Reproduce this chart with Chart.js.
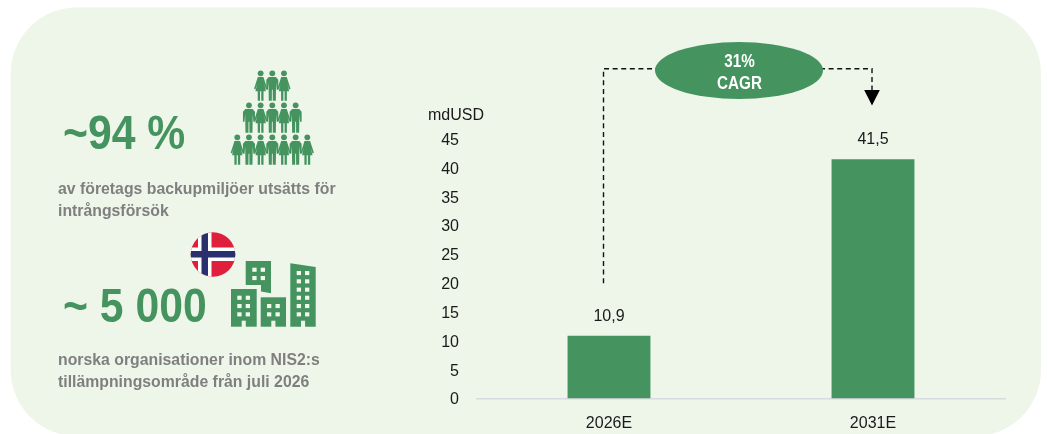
<!DOCTYPE html>
<html><head><meta charset="utf-8">
<style>html,body{margin:0;padding:0;background:#fff}#w{width:1048px;height:434px}</style>
<script src="https://cdn.jsdelivr.net/npm/chart.js@4/dist/chart.umd.min.js"></script>
</head><body><div id="w"><canvas id="c" width="1048" height="434"></canvas></div>
<script>
const categories = ["2026E", "2031E"];
const values = [10.9, 41.5];
const yTicks = [0, 5, 10, 15, 20, 25, 30, 35, 40, 45];
const unitLabel = "mdUSD";
const cagrLines = ["31%", "CAGR"];
const stat1 = "~94 %";
const stat1Text = ["av företags backupmiljöer utsätts för", "intrångsförsök"];
const stat2 = "~ 5 000";
const stat2Text = ["norska organisationer inom NIS2:s", "tillämpningsområde från juli 2026"];

const GREEN = "#45945F", PANEL = "#EEF6EA", GREY = "#7F7F7F", INK = "#1a1a1a";
const FONT = '"Liberation Sans", Arial, sans-serif';

function stext(ctx, s, x, y, font, color, sx, align) {
  ctx.save(); ctx.font = font; ctx.fillStyle = color;
  ctx.textBaseline = "alphabetic"; ctx.textAlign = align || "left";
  ctx.translate(x, y); ctx.scale(sx, 1); ctx.fillText(s, 0, 0); ctx.restore();
}
function person(ctx, x, y, woman) {
  ctx.beginPath(); ctx.arc(x, y, 2.9, 0, 7); ctx.fill();
  ctx.beginPath();
  if (woman) {
    ctx.moveTo(x-2.8, y+3.6); ctx.lineTo(x+2.8, y+3.6);
    ctx.lineTo(x+6.6, y+15.5); ctx.lineTo(x+5.2, y+16.2); ctx.lineTo(x+3.6, y+11);
    ctx.lineTo(x+5.2, y+18); ctx.lineTo(x+2.9, y+18); ctx.lineTo(x+2.9, y+27.5); ctx.lineTo(x+.6, y+27.5);
    ctx.lineTo(x+.6, y+18); ctx.lineTo(x-.6, y+18); ctx.lineTo(x-.6, y+27.5); ctx.lineTo(x-2.9, y+27.5);
    ctx.lineTo(x-2.9, y+18); ctx.lineTo(x-5.2, y+18); ctx.lineTo(x-3.6, y+11);
    ctx.lineTo(x-5.2, y+16.2); ctx.lineTo(x-6.6, y+15.5);
  } else {
    ctx.moveTo(x-3.6, y+3.6); ctx.lineTo(x+3.6, y+3.6); ctx.lineTo(x+6, y+6.5);
    ctx.lineTo(x+6, y+16.5); ctx.lineTo(x+4.4, y+16.5); ctx.lineTo(x+3.8, y+9);
    ctx.lineTo(x+3.5, y+27.5); ctx.lineTo(x+.5, y+27.5); ctx.lineTo(x+.4, y+16.5); ctx.lineTo(x-.4, y+16.5);
    ctx.lineTo(x-.5, y+27.5); ctx.lineTo(x-3.5, y+27.5); ctx.lineTo(x-3.8, y+9); ctx.lineTo(x-4.4, y+16.5);
    ctx.lineTo(x-6, y+16.5); ctx.lineTo(x-6, y+6.5);
  }
  ctx.closePath(); ctx.fill();
}
function windows(ctx, xs, ys) {
  ctx.fillStyle = "#F3F8EF";
  ys.forEach(y => xs.forEach(x => ctx.fillRect(x, y, 4.3, 4.1)));
  ctx.fillStyle = GREEN;
}
function door(ctx, x) {
  ctx.fillStyle = PANEL; ctx.fillRect(x, 320.7, 4.1, 6.5); ctx.fillStyle = GREEN;
}
const decor = {
  id: "decor",
  beforeDraw(chart) {
    const ctx = chart.ctx;
    ctx.save();
    ctx.fillStyle = PANEL;
    ctx.beginPath(); ctx.roundRect(10.7, 7.5, 1030.3, 428.5, 66); ctx.fill();
    ctx.restore();
  },
  afterDraw(chart) {
    const ctx = chart.ctx, xs = chart.scales.x, ys = chart.scales.y;
    const meta = chart.getDatasetMeta(0);
    ctx.save();
    // value labels
    ctx.textAlign = "center"; ctx.textBaseline = "alphabetic"; ctx.fillStyle = INK; ctx.font = "16px " + FONT;
    meta.data.forEach((b, i) => ctx.fillText(String(values[i]).replace(".", ","), b.x, b.y - 15));
    ctx.textAlign = "left"; ctx.fillText(unitLabel, 428, 119.5);
    // dashed connector
    const xa = xs.getPixelForValue(0) - 5.5, xb = xs.getPixelForValue(1) - 1;
    ctx.strokeStyle = "#111"; ctx.lineWidth = 1.4; ctx.setLineDash([5, 3.6]);
    ctx.beginPath(); ctx.moveTo(xa, ys.getPixelForValue(20)); ctx.lineTo(xa, 68.7); ctx.lineTo(660, 68.7); ctx.stroke();
    ctx.beginPath(); ctx.moveTo(820, 68.7); ctx.lineTo(xb, 68.7); ctx.lineTo(xb, 92); ctx.stroke();
    ctx.setLineDash([]);
    ctx.fillStyle = "#000"; ctx.beginPath(); ctx.moveTo(xb-7.8, 90); ctx.lineTo(xb+7.8, 90); ctx.lineTo(xb, 105.5); ctx.closePath(); ctx.fill();
    // ellipse
    ctx.fillStyle = GREEN; ctx.beginPath(); ctx.ellipse(739, 70.5, 84, 28.5, 0, 0, 7); ctx.fill();
    stext(ctx, cagrLines[0], 739.5, 66.7, "bold 17.5px " + FONT, "#fff", 0.87, "center");
    stext(ctx, cagrLines[1], 739.5, 89.3, "bold 17.5px " + FONT, "#fff", 0.87, "center");
    // stats
    stext(ctx, stat1, 63, 148.5, "bold 48px " + FONT, GREEN, 0.89);
    stext(ctx, stat2, 63, 321.7, "bold 48px " + FONT, GREEN, 0.89);
    const sm = "bold 17px " + FONT;
    stext(ctx, stat1Text[0], 58, 194, sm, GREY, 0.93);
    stext(ctx, stat1Text[1], 58, 215.7, sm, GREY, 0.93);
    stext(ctx, stat2Text[0], 58, 365, sm, GREY, 0.93);
    stext(ctx, stat2Text[1], 58, 386.7, sm, GREY, 0.93);
    // people
    ctx.fillStyle = GREEN;
    const cx = 272.3, dx = 11.67;
    [[3,73.3],[5,105.3],[7,137.3]].forEach(([n,y]) => {
      for (let i=0;i<n;i++) {
        const o = i-(n-1)/2;
        person(ctx, cx+o*dx, y, n===5 ? i%2===1 : i%2===0);
      }
    });
    // buildings
    ctx.fillStyle = GREEN;
    ctx.fillRect(231, 289, 25.7, 37.7);
    windows(ctx, [237.3, 245.7], [295.7, 304, 312.3]);
    door(ctx, 241.7);
    ctx.beginPath(); ctx.moveTo(245.7,261); ctx.lineTo(271,261); ctx.lineTo(271,293.3); ctx.lineTo(261,291.5); ctx.lineTo(261,285); ctx.lineTo(245.7,285); ctx.closePath(); ctx.fill();
    windows(ctx, [252.3, 260.7], [267.7, 276]);
    ctx.fillRect(260.7, 297.3, 25.3, 29.4);
    windows(ctx, [267, 275.5], [304, 312.3]);
    door(ctx, 271.3);
    ctx.beginPath(); ctx.moveTo(290.3,263.3); ctx.lineTo(315.7,267); ctx.lineTo(315.7,326.7); ctx.lineTo(290.3,326.7); ctx.closePath(); ctx.fill();
    windows(ctx, [296.7, 305], [271, 279.3, 287.6, 295.7, 304, 312.3]);
    door(ctx, 301);
    // flag
    ctx.save(); ctx.beginPath(); ctx.arc(213, 254.5, 22.3, 0, 7); ctx.clip();
    ctx.fillStyle = "#E01F3D"; ctx.fillRect(190, 232, 46, 46);
    ctx.fillStyle = "#fff"; ctx.fillRect(198, 232, 13.5, 46); ctx.fillRect(190, 247.5, 46, 13.5);
    ctx.fillStyle = "#2A2F6E"; ctx.fillRect(201.5, 232, 6.5, 46); ctx.fillRect(190, 251, 46, 6.5);
    ctx.restore();
    ctx.restore();
  }
};
new Chart(document.getElementById("c"), {
  type: "bar",
  data: { labels: categories, datasets: [{ data: values, backgroundColor: GREEN, categoryPercentage: 1, barPercentage: 0.314 }] },
  plugins: [decor],
  options: {
    responsive: false, animation: false,
    layout: { padding: { top: 139, right: 43, left: 0, bottom: 0 } },
    plugins: { legend: { display: false }, tooltip: { enabled: false } },
    scales: {
      x: {
        afterFit(s) { s.height = 35.5; },
        grid: { display: false, drawTicks: false },
        border: { display: true, color: "#D9D9E0", width: 1.5 },
        ticks: { color: INK, font: { family: FONT, size: 16 }, padding: 15, maxRotation: 0 }
      },
      y: {
        min: 0, max: 45,
        afterFit(s) { s.width = 477; },
        afterBuildTicks(s) { s.ticks = yTicks.map(v => ({ value: v })); },
        grid: { display: false, drawTicks: false },
        border: { display: false },
        ticks: { color: INK, font: { family: FONT, size: 16 }, padding: 18, labelOffset: 1.5 }
      }
    }
  }
});
</script></body></html>
